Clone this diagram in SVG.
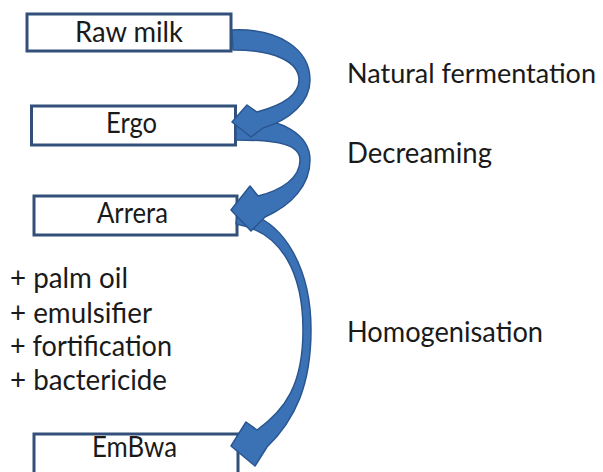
<svg xmlns="http://www.w3.org/2000/svg" width="603" height="472" viewBox="0 0 603 472">
<style>
.box{fill:#ffffff;stroke:#33507a;stroke-width:3}
.lbl{font-family:Lato,"Liberation Sans",sans-serif;font-size:29px;fill:#1a1a1a}
.arr{fill:#3b72b6;stroke:#2a5690;stroke-width:1.5;stroke-linejoin:round}
</style>
<rect width="603" height="472" fill="#ffffff"/>
<g id="node-rawmilk">
<rect class="box" x="27" y="14" width="204" height="37"/>
<text class="lbl" x="75" y="42" textLength="108" lengthAdjust="spacingAndGlyphs">Raw milk</text>
</g>
<g id="node-ergo">
<rect class="box" x="31.5" y="106" width="204" height="39"/>
<text class="lbl" x="106" y="133" textLength="51" lengthAdjust="spacingAndGlyphs">Ergo</text>
</g>
<g id="node-arrera">
<rect class="box" x="34" y="196" width="203" height="39"/>
<text class="lbl" x="97" y="223" textLength="71" lengthAdjust="spacingAndGlyphs">Arrera</text>
</g>
<g id="node-embwa">
<rect class="box" x="34" y="434" width="204" height="48"/>
<text class="lbl" x="92" y="457" textLength="85" lengthAdjust="spacingAndGlyphs">EmBwa</text>
</g>
<g id="connectors">
<path id="arrow-homogenisation" class="arr" d="M238,211 C285,218 311,270 311,330 C311,385 295,420 267,447 L255,466 L231,446 L246,422 L257,430 C285,410 303,385 303,330 C303,275 283,232 236,224 Z"/>
<path id="arrow-decreaming" class="arr" d="M236,117 C282,117 310,135 310,160 C310,185 292,205 265,217 L251,231 L231,210 L250,186 L258,196 C282,190 300,178 300,160 C300,145 280,140 236,140 Z"/>
<path id="arrow-fermentation" class="arr" d="M232,30 C280,28 310,50 310,80 C310,102 290,120 263,128 L251,137 L232,122 L247,105 L257,112 C283,105 299,95 299,80 C299,62 275,50 233,50 Z"/>
</g>
<g id="labels">
<text class="lbl" x="347" y="83" style="font-size:27px" textLength="249" lengthAdjust="spacingAndGlyphs">Natural fermentation</text>
<text class="lbl" x="347" y="163" textLength="145" lengthAdjust="spacingAndGlyphs">Decreaming</text>
<text class="lbl" x="347" y="342" textLength="196" lengthAdjust="spacingAndGlyphs">Homogenisation</text>
<text class="lbl" x="10" y="288" textLength="118" lengthAdjust="spacingAndGlyphs">+ palm oil</text>
<text class="lbl" x="10" y="323" textLength="142" lengthAdjust="spacingAndGlyphs">+ emulsifier</text>
<text class="lbl" x="10" y="356" textLength="162" lengthAdjust="spacingAndGlyphs">+ fortification</text>
<text class="lbl" x="10" y="390" textLength="157" lengthAdjust="spacingAndGlyphs">+ bactericide</text>
</g>
</svg>
